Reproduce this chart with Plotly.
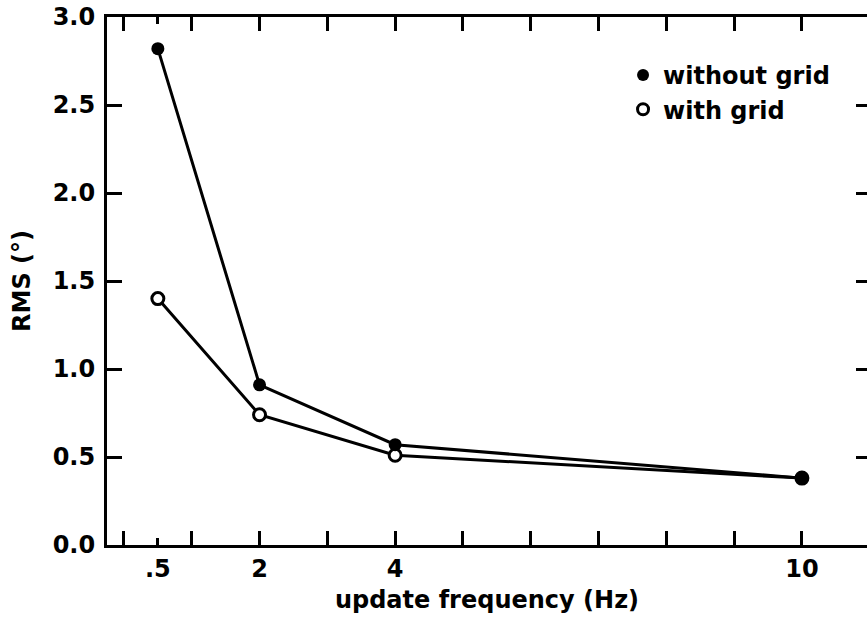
import plotly.graph_objects as go

freq = [0.5, 2, 4, 10]
rms_without_grid = [2.82, 0.91, 0.57, 0.38]
rms_with_grid = [1.40, 0.74, 0.51, 0.38]
series_names = ["without grid", "with grid"]
x_labels = [".5", "2", "4", "10"]
x_label_vals = [0.5, 2, 4, 10]
x_minor_vals = list(range(0, 12))
y_ticks = [0.0, 0.5, 1.0, 1.5, 2.0, 2.5, 3.0]

FONT = dict(family="DejaVu Sans", size=24, color="black", weight="bold")

fig = go.Figure()
# lines (base subplot)
for ys in (rms_without_grid, rms_with_grid):
    fig.add_trace(go.Scatter(x=freq, y=ys, mode="lines", line=dict(color="black", width=3),
                             showlegend=False, hoverinfo="skip"))
# markers (overlay axis, which also carries the right-hand ticks)
fig.add_trace(go.Scatter(x=freq, y=rms_with_grid, mode="markers", yaxis="y2",
                         marker=dict(symbol="circle", color="white", size=12,
                                     line=dict(color="black", width=3)),
                         showlegend=False))
fig.add_trace(go.Scatter(x=freq, y=rms_without_grid, mode="markers", yaxis="y2",
                         marker=dict(symbol="circle", color="black", size=13,
                                     line=dict(color="black", width=0)),
                         showlegend=False))
# legend entries
fig.add_trace(go.Scatter(x=[None], y=[None], mode="markers", name=series_names[0],
                         marker=dict(symbol="circle", color="black", size=12)))
fig.add_trace(go.Scatter(x=[None], y=[None], mode="markers", name=series_names[1],
                         marker=dict(symbol="circle", color="white", size=11,
                                     line=dict(color="black", width=3))))

xr = [-0.25, 10.96]
fig.update_layout(
    width=867, height=628,
    margin=dict(l=107, r=0, t=17, b=83),
    paper_bgcolor="white", plot_bgcolor="white",
    font=FONT,
    showlegend=True,
    legend=dict(x=0.679, y=0.932, xanchor="left", yanchor="top",
                bgcolor="rgba(0,0,0,0)", font=FONT, tracegroupgap=0,
                itemsizing="trace"),
    xaxis=dict(range=xr, tickmode="array", tickvals=x_label_vals, ticktext=x_labels,
               ticks="inside", ticklen=7, tickwidth=2.5, tickcolor="black",
               minor=dict(tickmode="array", tickvals=x_minor_vals, ticks="inside",
                          ticklen=14, tickwidth=2.5, tickcolor="black"),
               showline=True, linewidth=3, linecolor="black", mirror="ticks",
               showgrid=False, zeroline=False,
               title=dict(text="update frequency (Hz)", font=FONT, standoff=10)),
    yaxis=dict(range=[0, 3], tickmode="array", tickvals=y_ticks,
               ticktext=[f"{v:.1f}" for v in y_ticks],
               ticks="inside", ticklen=15, tickwidth=2.5, tickcolor="black",
               ticklabelstandoff=4,
               showline=True, linewidth=3, linecolor="black",
               showgrid=False, zeroline=False,
               title=dict(text="RMS (°)", font=FONT, standoff=16)),
    yaxis2=dict(range=[0, 3], overlaying="y", side="right", anchor="x",
                tickmode="array", tickvals=y_ticks, showticklabels=False,
                ticks="inside", ticklen=11, tickwidth=2.5, tickcolor="black",
                showline=False, showgrid=False, zeroline=False),
)
fig.write_html("out.html")
